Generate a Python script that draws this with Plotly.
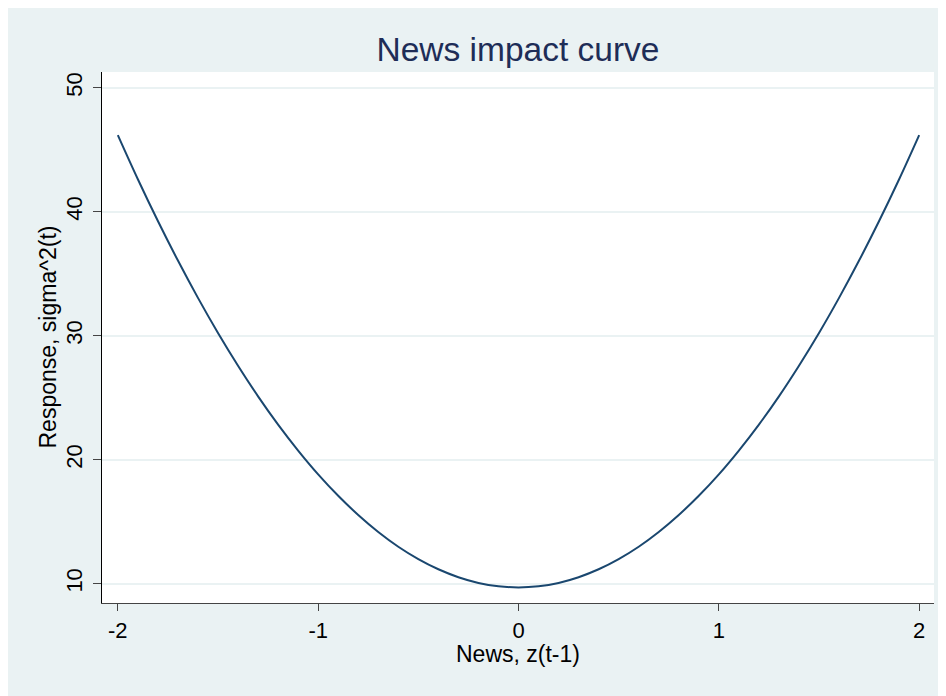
import plotly.graph_objects as go

# News, z(t-1)
news_z = [-2.0, -1.9, -1.8, -1.7, -1.6, -1.5, -1.4, -1.3, -1.2, -1.1, -1.0,
          -0.9, -0.8, -0.7, -0.6, -0.5, -0.4, -0.3, -0.2, -0.1, 0.0,
          0.1, 0.2, 0.3, 0.4, 0.5, 0.6, 0.7, 0.8, 0.9, 1.0,
          1.1, 1.2, 1.3, 1.4, 1.5, 1.6, 1.7, 1.8, 1.9, 2.0]
# Response, sigma^2(t)
response = [46.18, 42.62, 39.25, 36.06, 33.05, 30.22, 27.58, 25.11, 22.83, 20.74, 18.82,
            17.09, 15.54, 14.17, 12.98, 11.98, 11.16, 10.52, 10.06, 9.79, 9.70,
            9.79, 10.06, 10.52, 11.16, 11.98, 12.98, 14.17, 15.54, 17.09, 18.82,
            20.74, 22.83, 25.11, 27.58, 30.22, 33.05, 36.06, 39.25, 42.62, 46.18]

x_ticks = [-2, -1, 0, 1, 2]
y_ticks = [10, 20, 30, 40, 50]

BG = "#eaf2f3"
FONT = "Liberation Sans, Arial, Helvetica, sans-serif"

fig = go.Figure()
fig.add_trace(go.Scatter(
    x=news_z, y=response, mode="lines",
    line=dict(color="#1a476f", width=2, shape="spline"),
    showlegend=False, hoverinfo="skip",
))

W, H = 938, 688
L, R, T, B = 94, 12, 64, 93
pw, ph = W - L - R, H - T - B

fig.update_layout(
    width=W, height=H,
    margin=dict(l=L, r=R, t=T, b=B, pad=0),
    paper_bgcolor=BG, plot_bgcolor="white",
    font=dict(family=FONT, size=22, color="black"),
    title=dict(text="News impact curve", x=0.5, xref="paper", xanchor="center",
               y=1 - 41 / H, yref="container", yanchor="middle",
               font=dict(family=FONT, size=33.5, color="#1e2d57")),
    xaxis=dict(range=[-2.079, 2.074], tickvals=x_ticks, ticktext=[str(v) for v in x_ticks],
               showgrid=False, zeroline=False,
               showline=True, linecolor="#444444", linewidth=1.3,
               ticks="outside", ticklen=7, tickwidth=1.2, tickcolor="#444444",
               tickfont=dict(size=22, color="black")),
    yaxis=dict(range=[8.44, 51.27], tickvals=y_ticks, ticktext=[str(v) for v in y_ticks],
               showgrid=True, gridcolor=BG, gridwidth=1.5, zeroline=False,
               showline=True, linecolor="black", linewidth=1.3,
               ticks="outside", ticklen=8, tickwidth=1.2, tickcolor="#444444",
               tickangle=-90, ticklabelstandoff=2,
               tickfont=dict(size=22, color="black")),
    annotations=[
        dict(text="News, z(t-1)", xref="paper", yref="paper",
             x=0.5, y=(595 - 646) / ph,
             xanchor="center", yanchor="middle", showarrow=False,
             font=dict(family=FONT, size=23, color="black")),
        dict(text="Response, sigma^2(t)", xref="paper", yref="paper",
             x=(39 - L) / pw, y=0.5, textangle=-90,
             xanchor="center", yanchor="middle", showarrow=False,
             font=dict(family=FONT, size=23, color="black")),
    ],
)

fig.write_html("out.html")
